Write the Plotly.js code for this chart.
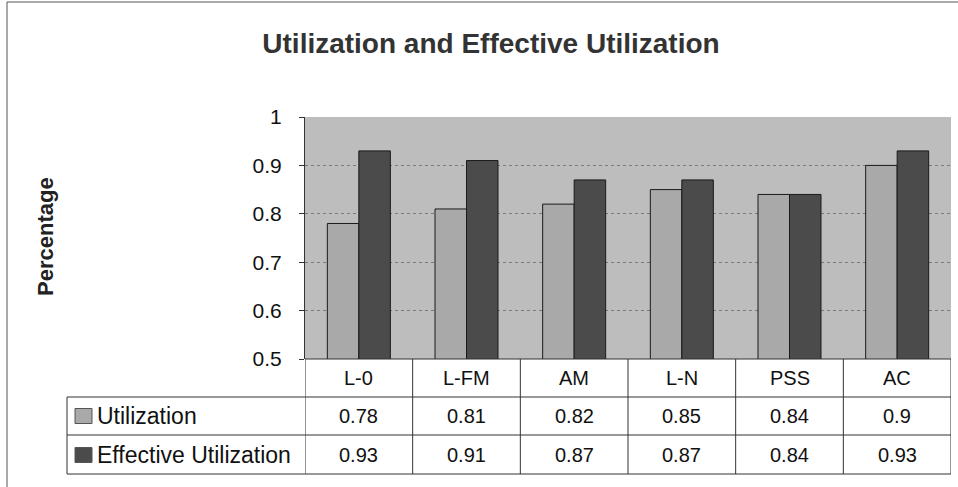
<!DOCTYPE html>
<html>
<head>
<meta charset="utf-8">
<script src="https://cdn.plot.ly/plotly-3.0.1.min.js"></script>
<style>html,body{margin:0;padding:0;background:#fff;}#chart{width:958px;height:487px;}</style>
</head>
<body>
<div id="chart"></div>
<script>
const categories = ['L-0', 'L-FM', 'AM', 'L-N', 'PSS', 'AC'];
const utilization = [0.78, 0.81, 0.82, 0.85, 0.84, 0.9];
const effectiveUtilization = [0.93, 0.91, 0.87, 0.87, 0.84, 0.93];
const seriesNames = ['Utilization', 'Effective Utilization'];
const yTickValues = [0.5, 0.6, 0.7, 0.8, 0.9, 1];
const yTickLabels = ['0.5', '0.6', '0.7', '0.8', '0.9', '1'];
const chartTitle = 'Utilization and Effective Utilization';
const yTitle = 'Percentage';

const W = 958, H = 487;
const L = 305, R = 7, T = 117, B = 128;
const plotW = W - L - R, plotH = H - T - B;
const px2x = p => (p - L) / plotW;
const py2y = p => (H - B - p) / plotH;

const lightColor = '#a9a9a9';
const darkColor = '#4b4b4b';
const font = 'Arial, "Liberation Sans", sans-serif';

const traces = [
  {type: 'bar', name: seriesNames[0], x: categories, y: utilization,
   marker: {color: lightColor, line: {color: '#1a1a1a', width: 1}}, hoverinfo: 'x+y'},
  {type: 'bar', name: seriesNames[1], x: categories, y: effectiveUtilization,
   marker: {color: darkColor, line: {color: '#1a1a1a', width: 1}}, hoverinfo: 'x+y'}
];

const rowY = [py2y(378), py2y(416), py2y(455)];
const lineY = [py2y(397), py2y(435), py2y(474)];
const leftColX = px2x(67);
const lineStyle = {color: '#333', width: 1};

const shapes = [];
for (let i = 0; i <= categories.length; i++) {
  shapes.push({type: 'line', xref: 'x', yref: 'paper', x0: i - 0.5, x1: i - 0.5, y0: 0, y1: lineY[2], line: lineStyle});
}
shapes.push({type: 'line', xref: 'paper', yref: 'paper', x0: leftColX, x1: leftColX, y0: lineY[0], y1: lineY[2], line: lineStyle});
shapes.push({type: 'line', xref: 'paper', yref: 'paper', x0: 0, x1: 1, y0: 0, y1: 0, line: lineStyle});
lineY.forEach(y => shapes.push({type: 'line', xref: 'paper', yref: 'paper', x0: leftColX, x1: 1, y0: y, y1: y, line: lineStyle}));
[lightColor, darkColor].forEach((c, i) => {
  const yc = rowY[i + 1];
  const h = 15 / plotH;
  shapes.push({type: 'rect', xref: 'paper', yref: 'paper', x0: px2x(75), x1: px2x(92), y0: yc - h / 2, y1: yc + h / 2,
    fillcolor: c, line: {color: '#555', width: 1}});
});
shapes.push({type: 'line', xref: 'paper', yref: 'paper', x0: px2x(7), x1: px2x(958), y0: py2y(2), y1: py2y(2), line: {color: '#555', width: 1}});
shapes.push({type: 'line', xref: 'paper', yref: 'paper', x0: px2x(7), x1: px2x(7), y0: py2y(2), y1: py2y(487), line: {color: '#555', width: 1}});

const annotations = [];
const tFont = {family: font, size: 20, color: '#111'};
const legFont = {family: font, size: 23, color: '#111'};
categories.forEach((c, i) => {
  annotations.push({xref: 'x', yref: 'paper', x: c, y: rowY[0], text: c, showarrow: false, font: tFont, xanchor: 'center', yanchor: 'middle'});
  annotations.push({xref: 'x', yref: 'paper', x: c, y: rowY[1], text: String(utilization[i]), showarrow: false, font: tFont, xanchor: 'center', yanchor: 'middle'});
  annotations.push({xref: 'x', yref: 'paper', x: c, y: rowY[2], text: String(effectiveUtilization[i]), showarrow: false, font: tFont, xanchor: 'center', yanchor: 'middle'});
});
seriesNames.forEach((n, i) => {
  annotations.push({xref: 'paper', yref: 'paper', x: px2x(95), y: rowY[i + 1], text: n, showarrow: false, font: legFont, xanchor: 'left', yanchor: 'middle'});
});
annotations.push({xref: 'paper', yref: 'paper', x: px2x(45), y: py2y(237), text: '<b>' + yTitle + '</b>', textangle: -90,
  showarrow: false, font: {family: font, size: 22, color: '#222'}, xanchor: 'center', yanchor: 'middle'});

const layout = {
  width: W, height: H,
  margin: {l: L, r: R, t: T, b: B, pad: 0},
  paper_bgcolor: '#ffffff',
  plot_bgcolor: '#bdbdbd',
  showlegend: false,
  bargap: 0.415,
  bargroupgap: 0,
  barmode: 'group',
  title: {text: '<b>' + chartTitle + '</b>', x: 491 / W, xref: 'container', xanchor: 'center',
    y: 1 - 43 / H, yref: 'container', yanchor: 'middle', font: {family: font, size: 28, color: '#333'}},
  xaxis: {type: 'category', showticklabels: false, ticks: '', showgrid: false, zeroline: false,
    showline: false, range: [-0.5, categories.length - 0.5], fixedrange: true},
  yaxis: {range: [0.5, 1], tickvals: yTickValues, ticktext: yTickLabels, ticks: 'outside', ticklen: 5,
    tickcolor: '#333', ticklabelstandoff: 13, tickfont: {family: font, size: 21, color: '#111'},
    showline: true, linecolor: '#333', linewidth: 1, showgrid: true, gridcolor: '#7a7a7a', griddash: 'dot',
    gridwidth: 1, zeroline: false, fixedrange: true},
  shapes: shapes,
  annotations: annotations
};

Plotly.newPlot('chart', traces, layout, {displayModeBar: false, staticPlot: true});
</script>
</body>
</html>
